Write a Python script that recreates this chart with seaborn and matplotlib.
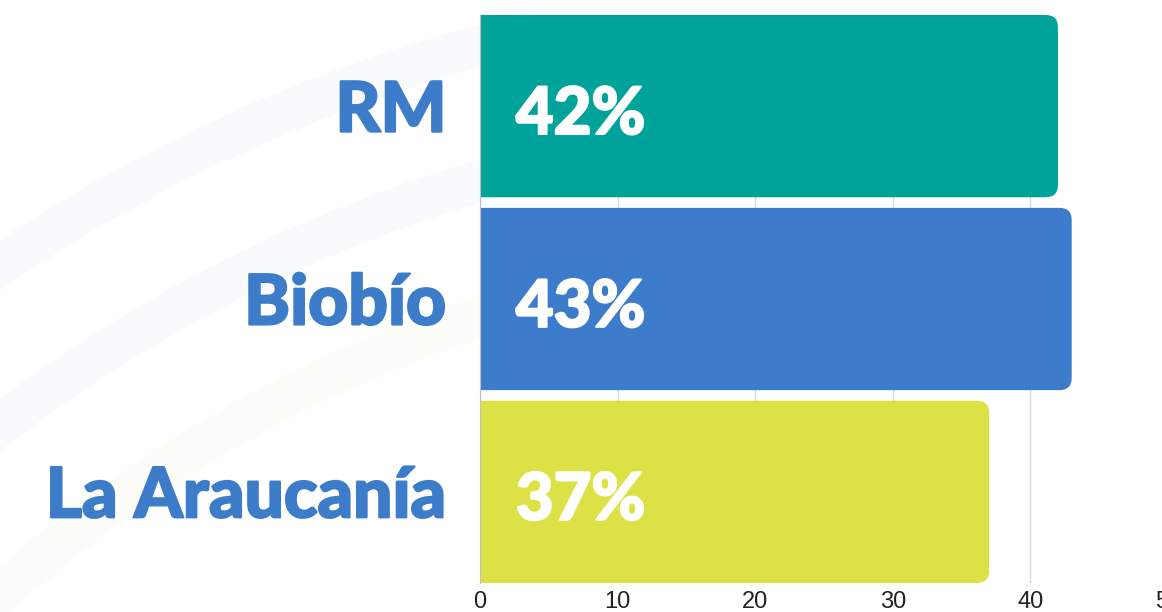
import seaborn as sns
import matplotlib.pyplot as plt
import matplotlib.patheffects as pe
import pandas as pd
from matplotlib.patches import FancyBboxPatch, Arc

# Data
regions = ['RM', 'Biobío', 'La Araucanía']
values = [42, 43, 37]
labels = ['42%', '43%', '37%']
colors = ['#00A39A', '#3D7CCB', '#DCE245']
xticks = [0, 10, 20, 30, 40, 50]

df = pd.DataFrame({'region': regions, 'value': values})

sns.set_style('white')
heavy = ['Lato Black', 'Lato Heavy', 'Lato', 'DejaVu Sans']
plt.rcParams['font.family'] = heavy

fig = plt.figure(figsize=(11.62, 6.12), dpi=100)

# faint decorative arcs in the background
bg = fig.add_axes([0, 0, 1, 1], zorder=0)
bg.set_xlim(0, 1162)
bg.set_ylim(612, 0)
bg.axis('off')
for r, c in [(1610, '#f9fafc'), (1480, '#f8fafb'), (1350, '#fcfcf8')]:
    bg.add_patch(Arc((900, 1600), 2 * r, 2 * r, theta1=200, theta2=257,
                     lw=30, color=c))

ax = fig.add_axes([480 / 1162, 1 - 583 / 612, 688 / 1162, 568 / 612], zorder=1)
ax.patch.set_alpha(0)
sns.barplot(data=df, y='region', x='value', hue='region', palette=colors,
            orient='h', width=0.945, legend=False, ax=ax)

# swap plain bars for bars with rounded right end
for bar, col in zip(list(ax.patches), colors):
    x0, y0 = bar.get_x(), bar.get_y()
    w, h = bar.get_width(), bar.get_height()
    bar.remove()
    rb = FancyBboxPatch((x0 - 3, y0), w + 3, h,
                        boxstyle='round,pad=0,rounding_size=0.9',
                        mutation_aspect=0.07, fc=col, ec='none',
                        zorder=2, clip_on=True)
    ax.add_patch(rb)

ax.set_xlim(0, 50)
ax.set_ylim(2.4725, -0.4725)
ax.set_xticks(xticks)
ax.set_xticklabels([str(t) for t in xticks], fontsize=17,
                   family='Liberation Sans', color='#222222')
ax.tick_params(axis='x', length=0, pad=6)
ax.tick_params(axis='y', length=0, pad=24)
ax.set_yticks(range(len(regions)))
ax.set_yticklabels(regions, fontsize=50, fontweight='black', color='#3D7CC9')
for t in ax.get_yticklabels():
    t.set_va('center_baseline')
    t.set_path_effects([pe.withStroke(linewidth=1.5, foreground='#3D7CC9')])
ax.set_xlabel('')
ax.set_ylabel('')
ax.grid(axis='x', color='#d9d9d9', lw=1, zorder=0)
ax.set_axisbelow(True)
for s in ['top', 'right', 'bottom']:
    ax.spines[s].set_visible(False)
ax.spines['left'].set_color('#bfbfbf')
ax.spines['left'].set_zorder(3)

for i, lab in enumerate(labels):
    ax.text(2.6, i + 0.02, lab, ha='left', va='center_baseline', fontsize=47,
            fontweight='black', color='white', zorder=4,
            path_effects=[pe.withStroke(linewidth=1.5, foreground='white')])

fig.savefig('out.png', dpi=100)
